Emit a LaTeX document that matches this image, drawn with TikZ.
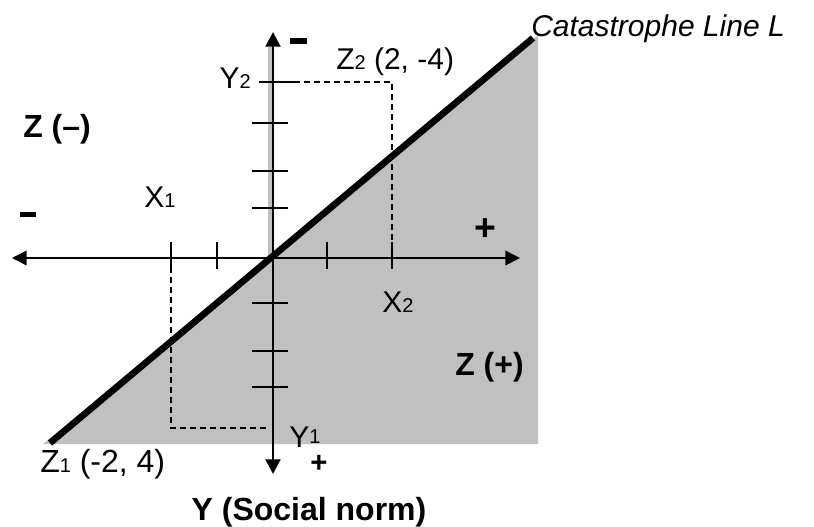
\documentclass[tikz,border=0pt]{standalone}
\usepackage{fontspec}
\setmainfont{Liberation Sans}
\usepackage{tikz}
\usetikzlibrary{arrows.meta}
\definecolor{areagray}{RGB}{192,192,192}
\newcommand{\idx}[1]{{\fontsize{15}{15}\selectfont #1}}

\begin{document}
\begin{tikzpicture}[x=0.75pt,y=-0.75pt,font=\fontsize{22.5}{26}\selectfont,
  >={Triangle[length=11pt,width=11pt]},
  tick/.style={line width=1.2pt},
  guide/.style={line width=0.8pt,dash pattern=on 4.5pt off 3pt},
  axislabel/.style={font=\fontsize{24}{28}\selectfont\bfseries},
  signlabel/.style={anchor=center,inner sep=0pt}]
\useasboundingbox (0,0) rectangle (814,526);
\coordinate (O) at (273,258);
\coordinate (Ltop) at (533,38);
\coordinate (Lbot) at (50,443);
\coordinate (Xl) at (12,258);
\coordinate (Xr) at (520,258);
\coordinate (Yt) at (273,32);
\coordinate (Yb) at (273,474);
\fill[areagray] (43,444) -- (538,35) -- (538,444) -- cycle;
\fill[areagray] (268,47) rectangle (272,258);
\draw[guide] (274,82) -| (392,245);
\draw[guide] (171,267) |- (270,428);
\draw[line width=1.3pt,<->] (Xl) -- (Xr);
\draw[line width=2.2pt,->] (O) -- (Yt);
\draw[line width=2.2pt,->] (O) -- (Yb);
\foreach \x in {171,217,327,392} \draw[tick] (\x,242) -- (\x,269);
\foreach \y in {123,171,208,303,351,387} \draw[tick] (252,\y) -- (288,\y);
\draw[tick] (259,82) -- (294,82);
\draw[line width=5pt] (Lbot) -- (Ltop);
\node[anchor=base west,inner sep=0pt] (cat) at (531,36) {\itshape Catastrophe Line L};
\node[anchor=base west,inner sep=0pt] (z2) at (336,69) {Z\idx{2} (2, -4)};
\node[anchor=base west,inner sep=0pt,font=\fontsize{24}{28}\selectfont] (z1) at (40,472) {Z\idx{1} (-2, 4)};
\node[anchor=base east,inner sep=0pt] (y2) at (251,88) {Y\idx{2}};
\node[anchor=base west,inner sep=0pt] (x1) at (144,207) {X\idx{1}};
\node[anchor=base west,inner sep=0pt] (x2) at (382,312) {X\idx{2}};
\node[anchor=base west,inner sep=0pt] (y1) at (289,447) {Y\raisebox{3pt}{\idx{1}}};
\node[axislabel,anchor=base west,inner sep=0pt] (zneg) at (23,137) {Z (–)};
\node[axislabel,anchor=base west,inner sep=0pt] (zpos) at (455,375) {Z (+)};
\node[axislabel,anchor=base,inner sep=0pt] (ylab) at (309,520) {Y (Social norm)};
\node[signlabel] (xminus) at (28,214.5) {\rule{12pt}{3.8pt}};
\node[signlabel] (yminus) at (298.5,41) {\rule{12.5pt}{5pt}};
\node[anchor=base,inner sep=0pt,font=\fontsize{28}{28}\selectfont\bfseries] (xplus) at (485,240) {+};
\node[anchor=base,inner sep=0pt,font=\fontsize{22}{22}\selectfont\bfseries] (yplus) at (319,472) {+};
\end{tikzpicture}
\end{document}
